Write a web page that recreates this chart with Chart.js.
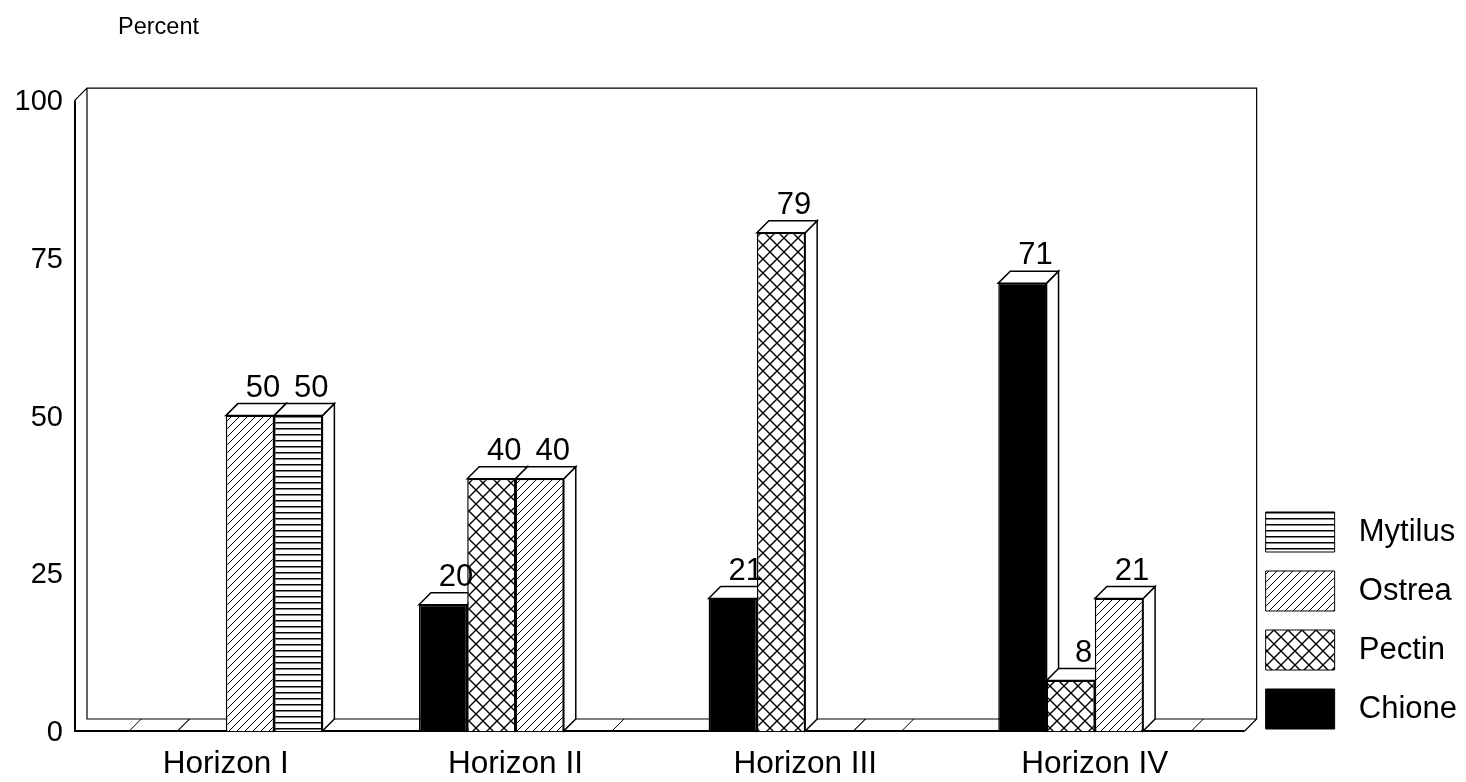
<!DOCTYPE html>
<html>
<head>
<meta charset="utf-8">
<style>html,body{margin:0;padding:0;background:#fff}canvas{display:block}</style>
<script src="https://cdn.jsdelivr.net/npm/chart.js@4"></script>
</head>
<body>
<canvas id="c" width="1466" height="782"></canvas>
<script>
const categories = ["Horizon I", "Horizon II", "Horizon III", "Horizon IV"];
const chione = [0, 20, 21, 71];
const pectin = [0, 40, 79, 8];
const ostrea = [50, 40, 0, 21];
const mytilus = [50, 0, 0, 0];
const yTicks = [0, 25, 50, 75, 100];
const yTitle = "Percent";

const INK = "#000";
const FONT = "'Liberation Sans', Arial, sans-serif";
const DEPTH = 12;

function tile(w, h, draw) {
  const t = document.createElement("canvas");
  t.width = w; t.height = h;
  const g = t.getContext("2d");
  g.fillStyle = "#fff"; g.fillRect(0, 0, w, h);
  g.strokeStyle = INK;
  draw(g, w, h);
  return g.createPattern(t, "repeat");
}
const hatchDiag = tile(8, 8, (g, w, h) => {
  g.lineWidth = 1;
  g.beginPath();
  g.moveTo(-1, h + 1); g.lineTo(w + 1, -1);
  g.moveTo(-1, 1); g.lineTo(1, -1);
  g.moveTo(w - 1, h + 1); g.lineTo(w + 1, h - 1);
  g.stroke();
});
const hatchCross = tile(14, 14, (g, w, h) => {
  g.lineWidth = 1.4;
  g.beginPath();
  g.moveTo(0, 0); g.lineTo(w, h);
  g.moveTo(w, 0); g.lineTo(0, h);
  g.stroke();
});
const hatchHoriz = tile(6, 6, (g, w) => {
  g.fillStyle = INK;
  g.fillRect(0, 2, w, 1.5);
});

const depthPlugin = {
  id: "depth",
  afterLayout(chart) {
    const a = chart.chartArea;
    chart.legend.left = a.right + 7;
    chart.legend.bottom -= 34;
    chart.titleBlock.left = 118;
  },
  beforeDatasetsDraw(chart) {
    const { ctx, chartArea: a } = chart;
    ctx.save();
    ctx.strokeStyle = INK;
    ctx.lineJoin = "miter";
    const L = a.left - 6, R = a.right + 5, T = a.top, B = a.bottom;
    // back wall + floor
    ctx.lineWidth = 1.2;
    ctx.beginPath();
    ctx.moveTo(L, T); ctx.lineTo(L + DEPTH, T - DEPTH);
    ctx.lineTo(R + DEPTH, T - DEPTH); ctx.lineTo(R + DEPTH, B - DEPTH);
    ctx.lineTo(R, B);
    ctx.moveTo(L + DEPTH, T - DEPTH); ctx.lineTo(L + DEPTH, B - DEPTH);
    ctx.lineTo(R + DEPTH, B - DEPTH);
    ctx.stroke();
    // front axes
    ctx.lineWidth = 2;
    ctx.beginPath();
    ctx.moveTo(L, T); ctx.lineTo(L, B); ctx.lineTo(R, B);
    ctx.stroke();
    // bar sides and tops, left to right
    ctx.lineWidth = 1.5;
    const n = chart.data.labels.length;
    for (let i = 0; i < n; i++) {
      chart.data.datasets.forEach((ds, d) => {
        const el = chart.getDatasetMeta(d).data[i];
        const x0 = el.x - el.width / 2, x1 = el.x + el.width / 2, y = el.y, b = el.base;
        if (ds.data[i] > 0) {
          ctx.fillStyle = "#fff";
          ctx.beginPath();
          ctx.moveTo(x1, y); ctx.lineTo(x1 + DEPTH, y - DEPTH);
          ctx.lineTo(x1 + DEPTH, b - DEPTH); ctx.lineTo(x1, b); ctx.closePath();
          ctx.fill(); ctx.stroke();
          ctx.beginPath();
          ctx.moveTo(x0, y); ctx.lineTo(x0 + DEPTH, y - DEPTH);
          ctx.lineTo(x1 + DEPTH, y - DEPTH); ctx.lineTo(x1, y); ctx.closePath();
          ctx.fill(); ctx.stroke();
        } else {
          ctx.save(); ctx.lineWidth = 1;
          ctx.beginPath();
          ctx.moveTo(x0, y); ctx.lineTo(x0 + DEPTH, y - DEPTH);
          ctx.moveTo(x1, y); ctx.lineTo(x1 + DEPTH, y - DEPTH);
          ctx.stroke();
          ctx.restore();
        }
      });
    }
    ctx.restore();
  },
  afterDatasetsDraw(chart) {
    const { ctx } = chart;
    ctx.save();
    ctx.fillStyle = INK;
    ctx.font = "31px " + FONT;
    ctx.textAlign = "center";
    ctx.textBaseline = "alphabetic";
    chart.data.datasets.forEach((ds, d) => {
      chart.getDatasetMeta(d).data.forEach((el, i) => {
        if (ds.data[i] > 0) ctx.fillText(String(ds.data[i]), el.x + 13, el.y - 19);
      });
    });
    ctx.restore();
  }
};

const mk = (label, data, fill) => ({
  label, data, backgroundColor: fill, borderColor: INK, borderWidth: 1.5,
  barPercentage: 1, categoryPercentage: 2 / 3
});

new Chart(document.getElementById("c"), {
  type: "bar",
  data: {
    labels: categories,
    datasets: [
      mk("Chione", chione, INK),
      mk("Pectin", pectin, hatchCross),
      mk("Ostrea", ostrea, hatchDiag),
      mk("Mytilus", mytilus, hatchHoriz)
    ]
  },
  plugins: [depthPlugin],
  options: {
    responsive: false,
    animation: false,
    devicePixelRatio: 1,
    layout: { padding: { right: 6 } },
    plugins: {
      tooltip: { enabled: false },
      title: {
        display: true, text: yTitle, align: "start", fullSize: false, color: INK,
        font: { family: FONT, size: 23.5, weight: "normal" },
        padding: { top: 13, bottom: 59 }
      },
      legend: {
        position: "right", align: "end", reverse: true,
        labels: {
          color: INK, boxWidth: 69, boxHeight: 40, padding: 19,
          font: { family: FONT, size: 31 },
          generateLabels(chart) {
            return Chart.defaults.plugins.legend.labels.generateLabels(chart)
              .map(it => ({ ...it, text: " " + it.text, lineWidth: 1 }));
          }
        }
      }
    },
    scales: {
      x: {
        grid: { display: false, drawTicks: false },
        border: { display: false },
        ticks: { color: INK, font: { family: FONT, size: 31.5 }, padding: 14, maxRotation: 0 },
        afterFit(s) { s.height = 51; }
      },
      y: {
        min: 0, max: 100,
        grid: { display: false, drawTicks: false },
        border: { display: false },
        afterBuildTicks(s) { s.ticks = yTicks.map(v => ({ value: v })); },
        ticks: { color: INK, font: { family: FONT, size: 29 }, padding: 18, labelOffset: 2 },
        afterFit(s) { s.width = 81; }
      }
    }
  }
});
</script>
</body>
</html>
